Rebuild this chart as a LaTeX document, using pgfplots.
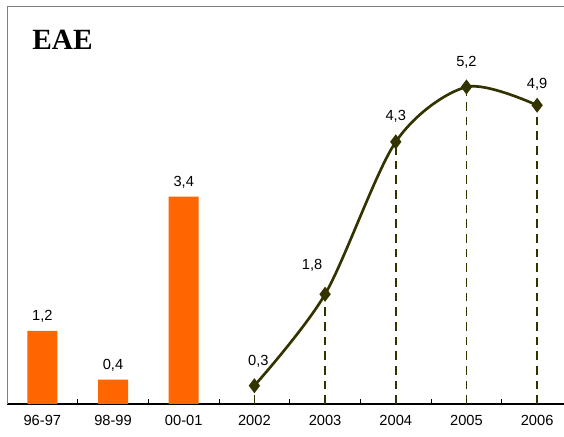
\documentclass[border=0pt]{standalone}
\usepackage{pgfplots}
\pgfplotsset{compat=1.18}
\usepackage{fontspec}
\setmainfont{Liberation Sans}
\newfontfamily\titlefont{Liberation Serif}
\definecolor{barorange}{HTML}{FF6600}
\definecolor{darkolive}{HTML}{333300}

% line series: x, value, label shift (pt)
\pgfplotstableread{
x y dx dy
3 0.3 3 18.5
4 1.8 -9.75 21.5
5 4.3 0 19.5
6 5.2 0 18.75
7 4.9 0 15.5
}\linedata

\begin{document}
\begin{tikzpicture}
\begin{axis}[
  name=ax,
  scale only axis,
  width=417.75pt, height=298.1pt,
  xmin=-0.5, xmax=7.38,
  ymin=0, ymax=6.52,
  axis x line*=bottom,
  axis y line*=left,
  y axis line style={draw=gray},
  x axis line style={draw=black, line width=0.9pt},
  ytick=\empty,
  xtick={0,...,7},
  xticklabels={96-97,98-99,00-01,2002,2003,2004,2005,2006},
  major tick length=0pt,
  extra x ticks={0.5,1.5,...,6.5},
  extra x tick labels={},
  extra x tick style={xtick align=inside, major tick length=4pt, tick style={black, line width=0.6pt}},
  ticklabel style={font=\fontsize{11}{13}\selectfont},
  xticklabel style={yshift=-5pt},
  /pgf/number format/.cd, use comma, fixed, fixed zerofill, precision=1, assume math mode=true,
  /pgfplots/.cd,
  nodes near coords style={font=\fontsize{11}{13}\selectfont, text=black},
  clip=false,
]
\draw[gray, line width=0.9pt] (rel axis cs:0,1) -- (rel axis cs:1,1);

\addplot[ybar, bar width=22.5pt, fill=barorange, draw=none,
  nodes near coords, every node near coord/.append style={anchor=center, yshift=11pt}]
  coordinates {(0,1.2) (1,0.4) (2,3.4)};

\addplot[ycomb, darkolive, line width=1.2pt, dash pattern=on 6.5pt off 4.5pt, no marks]
  table[x=x, y=y] {\linedata};

\addplot[darkolive, line width=2pt, smooth, mark=diamond*, mark size=4pt,
  mark options={solid, fill=darkolive},
  visualization depends on={\thisrow{dx} \as \dx},
  visualization depends on={\thisrow{dy} \as \dy},
  nodes near coords,
  every node near coord/.append style={anchor=center, xshift=\dx pt, yshift=\dy pt}]
  table[x=x, y=y] {\linedata};
\end{axis}
\node[anchor=base west, font=\titlefont\bfseries\fontsize{22}{26}\selectfont, inner sep=0pt]
  at ([xshift=18.75pt, yshift=-32.6pt]ax.north west) {EAE};
\pgfresetboundingbox
\path[use as bounding box] ([xshift=-5.25pt, yshift=-24.75pt]ax.south west) rectangle ([yshift=4.875pt]ax.north east);
\end{tikzpicture}
\end{document}
